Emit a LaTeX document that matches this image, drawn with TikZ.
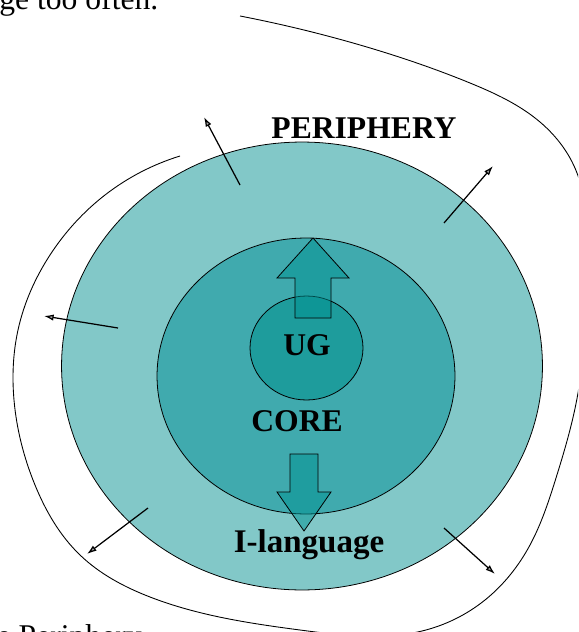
\documentclass[tikz,border=0pt]{standalone}
\usepackage{fontspec}
\setmainfont{Liberation Serif}
\usetikzlibrary{arrows.meta,shapes.geometric,hobby}
\definecolor{peri}{RGB}{130,200,200}
\definecolor{corec}{RGB}{64,170,174}
\definecolor{ugc}{RGB}{30,156,156}
\definecolor{blockc}{RGB}{0,146,146}
\begin{document}
\begin{tikzpicture}[x=0.02cm,y=-0.02cm,
  region/.style={ellipse, draw=black, line width=0.45pt, inner sep=0pt},
  lbl/.style={font=\fontsize{18}{20}\selectfont\bfseries, anchor=base, inner sep=0pt},
  spread/.style={line width=0.7pt, -{Latex[length=5.5pt,width=3.6pt,fill=gray!70]}},
  block/.style={draw=black, line width=0.45pt, fill=blockc, fill opacity=0.5},
  edgeline/.style={line width=0.5pt},
  bodytext/.style={font=\fontsize{18}{20}\selectfont, inner sep=0pt}]
\useasboundingbox (0,0) rectangle (578,632);
\clip (0,0) rectangle (578,632);

% regions
\node[region, fill=peri, minimum width=9.62cm, minimum height=8.96cm] (periphery) at (302,366) {};
\node[region, fill=corec, minimum width=5.96cm, minimum height=5.52cm] (core) at (306,376) {};
\node[region, fill=ugc, minimum width=2.26cm, minimum height=2.08cm] (ug) at (306.5,348) {};

% block arrows
\draw[block] (313,238) -- (349,278) -- (331,278) -- (331,318) -- (295,318) -- (295,278) -- (277,278) -- cycle;
\draw[block] (290,454) -- (318,454) -- (318,492) -- (331,492) -- (304,531) -- (277,492) -- (290,492) -- cycle;

% labels
\node[lbl] (lperi) at (364,138) {PERIPHERY};
\node[lbl] (lug) at (307,355) {UG};
\node[lbl] (lcore) at (297,431) {CORE};
\node[lbl, font=\fontsize{18.8}{20}\selectfont\bfseries] (lilang) at (309,552) {I-language};

% spreading arrows
\coordinate (a1s) at (240,185); \coordinate (a1e) at (204,117);
\coordinate (a2s) at (444,223); \coordinate (a2e) at (493,166);
\coordinate (a3s) at (118,328); \coordinate (a3e) at (44,316);
\coordinate (a4s) at (148,508); \coordinate (a4e) at (87,554);
\coordinate (a5s) at (444,528); \coordinate (a5e) at (495,574);
\draw[spread] (a1s) -- (a1e);
\draw[spread] (a2s) -- (a2e);
\draw[spread] (a3s) -- (a3e);
\draw[spread] (a4s) -- (a4e);
\draw[spread] (a5s) -- (a5e);

% outer boundary
\draw[edgeline, use Hobby shortcut]
 (180,156) .. (105,195) .. (50,255) .. (18,330) .. (14,400) .. (35,485)
 .. (80,555) .. (150,597) .. (300,630) .. (362,636) .. (422,631)
 .. (485,600) .. (530,545) .. (556,478) .. (580,380) .. (585,270)
 .. (577,173) .. (540,122) .. (470,83) .. (360,45) .. (240,16);

% cut text of the surrounding page
\node[bodytext, anchor=base west] (toptext) at (-1,10) {ge too often.};
\node[bodytext, anchor=base east] (bottext) at (142,646) {he Periphery};
\end{tikzpicture}
\end{document}
